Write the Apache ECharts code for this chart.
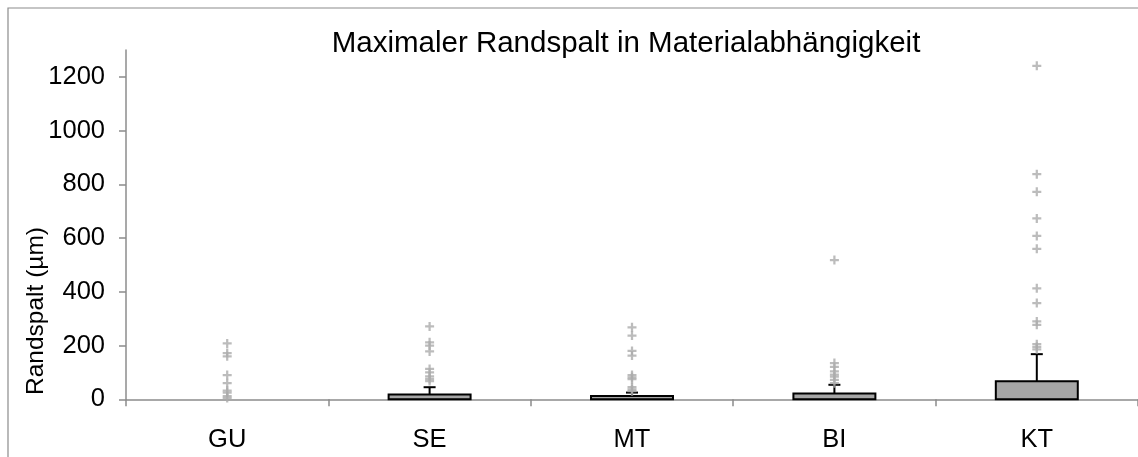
<!DOCTYPE html>
<html>
<head>
<meta charset="utf-8">
<script src="https://cdn.jsdelivr.net/npm/echarts@6/dist/echarts.min.js"></script>
<style>
html,body{margin:0;padding:0;background:#fff;}
#chart{width:1138px;height:457px;}
</style>
</head>
<body>
<div id="chart"></div>
<script>
// Data
const categories = ['GU', 'SE', 'MT', 'BI', 'KT'];
const q1Values = [0, 0, 0, 0, 0];
const q3Values = [0, 18, 12, 22, 67];
const whiskerTop = [0, 45, 25, 54, 168];
const outliersGU = [208, 172, 160, 90, 60, 32, 25, 12, 5];
const outliersSE = [271, 212, 200, 178, 113, 100, 85, 76, 68];
const outliersMT = [268, 237, 180, 163, 90, 82, 75, 45, 37, 30];
const outliersBI = [518, 135, 121, 104, 92, 84, 72, 60];
const outliersKT = [1241, 838, 772, 673, 608, 560, 413, 358, 290, 277, 205, 195, 186];
const yTicks = [0, 200, 400, 600, 800, 1000, 1200];

const outlierSets = [outliersGU, outliersSE, outliersMT, outliersBI, outliersKT];
const outlierData = [];
outlierSets.forEach((arr, i) => arr.forEach(v => outlierData.push([i, v])));
const boxData = categories.map((c, i) => [i, q1Values[i], q3Values[i], whiskerTop[i]]);

const axisGrey = '#8c8c8c';
const font = 'Liberation Sans, Arial, sans-serif';

const chart = echarts.init(document.getElementById('chart'));
chart.setOption({
  animation: false,
  backgroundColor: '#fff',
  title: {
    text: 'Maximaler Randspalt in Materialabhängigkeit',
    left: 621, top: 24, textAlign: 'center',
    textStyle: {fontFamily: font, fontSize: 29.5, fontWeight: 'normal', color: '#000'}
  },
  grid: {left: 126, right: 0, top: 50, bottom: 57.7, containLabel: false},
  xAxis: {
    type: 'category', data: categories, boundaryGap: true,
    axisLine: {lineStyle: {color: axisGrey, width: 1.5}},
    axisTick: {show: true, length: 7, lineStyle: {color: axisGrey, width: 1.5}},
    axisLabel: {fontFamily: font, fontSize: 25.5, color: '#000', margin: 28}
  },
  yAxis: {
    type: 'value', min: 0, max: 1300, interval: 100,
    splitLine: {show: false},
    axisLine: {show: true, lineStyle: {color: axisGrey, width: 1.5}},
    axisTick: {show: true, length: 7, lineStyle: {color: axisGrey, width: 1.5}, customValues: yTicks},
    axisLabel: {fontFamily: font, fontSize: 25.5, color: '#000', margin: 21, customValues: yTicks,
      formatter: function (v) { return String(v); }}
  },
  graphic: [
    {type: 'rect', shape: {x: 8, y: 8, width: 1200, height: 600}, style: {fill: 'none', stroke: axisGrey, lineWidth: 1.2}, silent: true, z: -1},
    {type: 'text', x: 36, y: 311, rotation: Math.PI / 2,
     style: {text: 'Randspalt (µm)', fontFamily: font, fontSize: 24.5, fill: '#000', textAlign: 'center', textVerticalAlign: 'middle'}}
  ],
  series: [
    {
      type: 'custom',
      data: boxData,
      z: 3,
      renderItem: function (params, api) {
        const i = api.value(0), q1 = api.value(1), q3 = api.value(2), wt = api.value(3);
        if (q3 <= q1 && wt <= q3) return null;
        const pLow = api.coord([i, q1]);
        const pHigh = api.coord([i, q3]);
        const pW = api.coord([i, wt]);
        const w = api.size([1, 0])[0] * 0.405;
        const cap = 12;
        return {
          type: 'group',
          children: [
            {type: 'line', shape: {x1: pHigh[0], y1: pHigh[1], x2: pW[0], y2: pW[1]}, style: {stroke: '#000', lineWidth: 2}},
            {type: 'line', shape: {x1: pW[0] - cap / 2, y1: pW[1], x2: pW[0] + cap / 2, y2: pW[1]}, style: {stroke: '#000', lineWidth: 2}},
            {type: 'rect', shape: {x: pLow[0] - w / 2, y: pHigh[1], width: w, height: pLow[1] - pHigh[1]}, style: {fill: '#a6a6a6', stroke: '#000', lineWidth: 2}}
          ]
        };
      }
    },
    {
      type: 'scatter',
      data: outlierData,
      z: 4,
      symbol: 'path://M-1,-4H1V-1H4V1H1V4H-1V1H-4V-1H-1Z',
      symbolSize: 9,
      itemStyle: {color: '#ababab'}
    }
  ]
});
</script>
</body>
</html>
